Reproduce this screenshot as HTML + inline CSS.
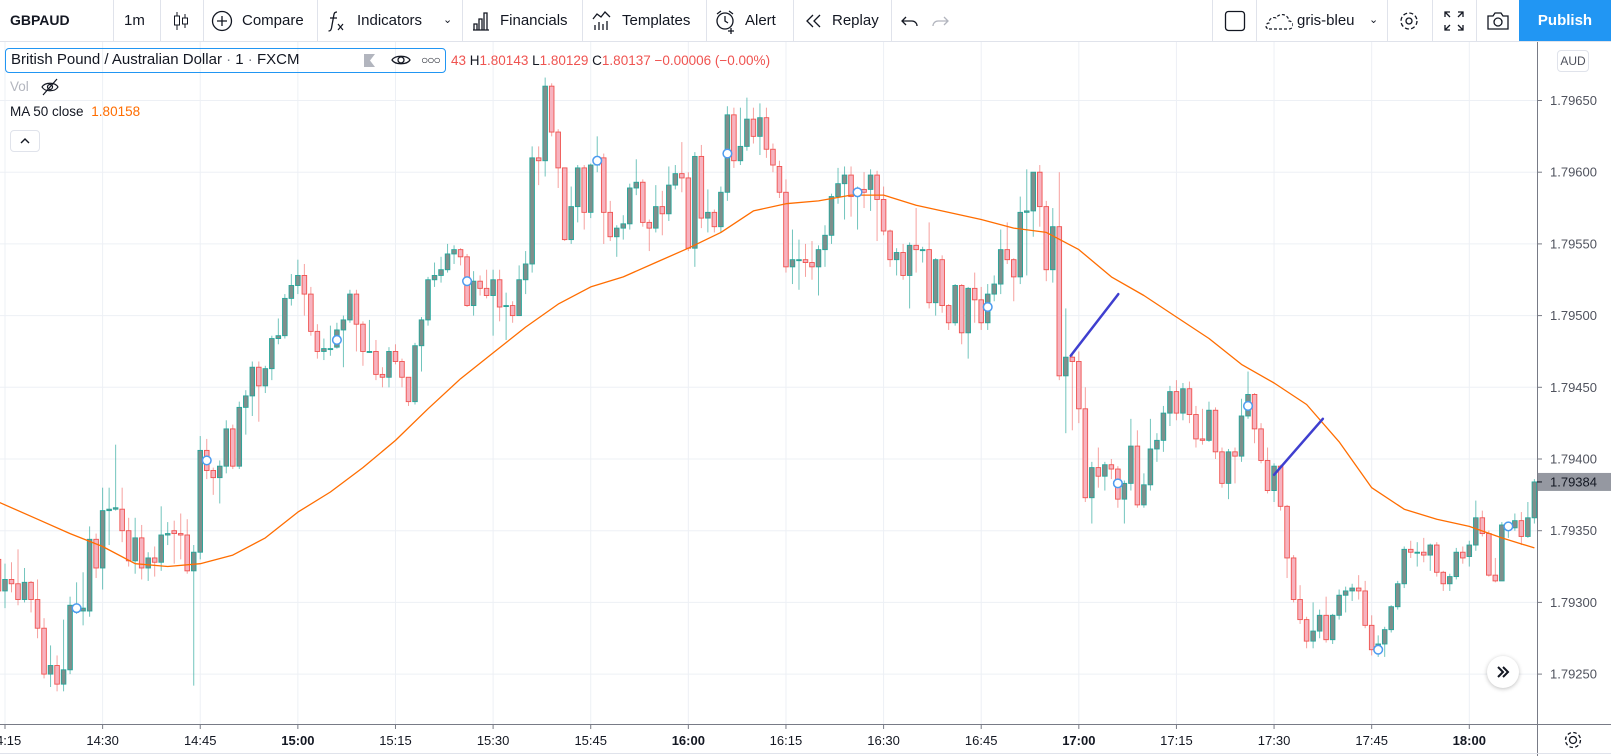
<!DOCTYPE html>
<html><head><meta charset="utf-8"><title>GBPAUD chart</title>
<style>
html,body{margin:0;padding:0;background:#fff;}
body{width:1611px;height:756px;overflow:hidden;position:relative;font-family:"Liberation Sans",sans-serif;color:#131722;}
#toolbar{position:absolute;left:0;top:0;width:1611px;height:41px;border-bottom:1px solid #e0e3eb;background:#fff;}
.ti{position:absolute;top:0;height:41px;line-height:41px;font-size:15px;color:#131722;white-space:nowrap;}
.sep{position:absolute;top:0;width:1px;height:41px;background:#e0e3eb;}
.ti svg{position:absolute;top:10px;}
#publish{position:absolute;left:1519px;top:0;width:92px;height:41px;background:#2196f3;color:#fff;font-weight:bold;font-size:15px;line-height:41px;text-align:center;}
#chart{position:absolute;left:0;top:0;}
#legend{position:absolute;left:5px;top:48px;width:441px;height:25px;border:1px solid #2196f3;border-radius:4px;box-sizing:border-box;}
.lg{position:absolute;white-space:nowrap;}
</style></head>
<body>
<div id="toolbar">
  <div class="ti" style="left:10px;font-weight:bold;font-size:14px">GBPAUD</div>
  <div class="sep" style="left:113px"></div>
  <div class="ti" style="left:124px">1m</div>
  <div class="sep" style="left:160px"></div>
  <div class="ti" style="left:170px;width:22px"><svg width="22" height="22" viewBox="0 0 22 22"><line x1="7" y1="2" x2="7" y2="20" stroke="#131722"/><rect x="4.5" y="6" width="5" height="9" fill="#fff" stroke="#131722"/><line x1="15" y1="4" x2="15" y2="18" stroke="#131722"/><rect x="12.5" y="8" width="5" height="6" fill="#fff" stroke="#131722"/></svg></div>
  <div class="sep" style="left:203px"></div>
  <div class="ti" style="left:210px;padding-left:32px"><svg style="left:0" width="24" height="22" viewBox="0 0 24 22"><circle cx="12" cy="11" r="9.5" fill="none" stroke="#131722" stroke-width="1.3"/><path d="M12 6v10M7 11h10" stroke="#131722" stroke-width="1.3"/></svg>Compare</div>
  <div class="sep" style="left:317px"></div>
  <div class="ti" style="left:326px;padding-left:31px"><svg style="left:0" width="20" height="22" viewBox="0 0 20 22"><path d="M11 2c-3 0-3 2-3.5 5l-2 11c-.5 2-1 3-3 3" fill="none" stroke="#131722" stroke-width="1.3"/><path d="M4 8h7" stroke="#131722" stroke-width="1.3"/><path d="M12 14l5 6M17 14l-5 6" stroke="#131722" stroke-width="1.2"/></svg>Indicators</div>
  <div class="ti" style="left:443px;font-size:11px">&#8964;</div>
  <div class="sep" style="left:462px"></div>
  <div class="ti" style="left:471px;padding-left:29px"><svg style="left:0" width="20" height="22" viewBox="0 0 20 22"><path d="M2 20h16M3 20v-6h3v6M8 20V9h3v11M13 20V3h3v17" fill="none" stroke="#131722" stroke-width="1.3"/></svg>Financials</div>
  <div class="sep" style="left:582px"></div>
  <div class="ti" style="left:592px;padding-left:30px"><svg style="left:0" width="20" height="22" viewBox="0 0 20 22"><path d="M1 9l4-5 4 3 4-5 5 5" fill="none" stroke="#131722" stroke-width="1.3"/><path d="M3 20v-5M7 20v-8M11 20v-6M15 20v-9" stroke="#131722" stroke-width="1.3"/></svg>Templates</div>
  <div class="sep" style="left:706px"></div>
  <div class="ti" style="left:715px;padding-left:30px"><svg style="left:0" width="22" height="24" viewBox="0 0 22 24"><circle cx="10" cy="11" r="8" fill="none" stroke="#131722" stroke-width="1.3"/><path d="M10 6v5l3 2M2 4l4-3M18 4l-4-3M16 18v6M13 21h6" stroke="#131722" stroke-width="1.3" fill="none"/></svg>Alert</div>
  <div class="sep" style="left:793px"></div>
  <div class="ti" style="left:804px;padding-left:28px"><svg style="left:0" width="20" height="22" viewBox="0 0 20 22"><path d="M9 5l-6 6 6 6M16 5l-6 6 6 6" fill="none" stroke="#131722" stroke-width="1.3"/></svg>Replay</div>
  <div class="sep" style="left:891px"></div>
  <div class="ti" style="left:900px;width:20px"><svg width="20" height="22" viewBox="0 0 20 22"><path d="M6 7l-4 4 4 4M2 11h10a5 5 0 0 1 5 5" fill="none" stroke="#131722" stroke-width="1.3"/></svg></div>
  <div class="ti" style="left:930px;width:20px"><svg width="20" height="22" viewBox="0 0 20 22"><path d="M14 7l4 4-4 4M18 11H8a5 5 0 0 0-5 5" fill="none" stroke="#b2b5be" stroke-width="1.3"/></svg></div>
  <div class="sep" style="left:1212px"></div>
  <div class="ti" style="left:1224px;width:22px"><svg width="22" height="22" viewBox="0 0 22 22"><rect x="1.5" y="1.5" width="19" height="19" rx="3" fill="none" stroke="#131722" stroke-width="1.3"/></svg></div>
  <div class="sep" style="left:1256px"></div>
  <div class="ti" style="left:1265px;padding-left:32px"><svg style="left:0" width="28" height="22" viewBox="0 0 28 22"><path d="M4 19h20a4 4 0 0 0 0-8 7 7 0 0 0-13-3 5 5 0 0 0-7 5 3 3 0 0 0 0 6" fill="none" stroke="#131722" stroke-width="1.2" stroke-dasharray="3 2"/></svg>gris-bleu</div>
  <div class="ti" style="left:1369px;font-size:11px">&#8964;</div>
  <div class="sep" style="left:1387px"></div>
  <div class="ti" style="left:1398px;width:22px"><svg width="22" height="22" viewBox="0 0 22 22"><circle cx="11" cy="11" r="3" fill="none" stroke="#131722" stroke-width="1.3"/><circle cx="11" cy="11" r="8" fill="none" stroke="#131722" stroke-width="1.3" stroke-dasharray="4 2.3"/></svg></div>
  <div class="sep" style="left:1432px"></div>
  <div class="ti" style="left:1443px;width:22px"><svg width="22" height="22" viewBox="0 0 22 22"><path d="M2 7V2h5M2 2l5 5M15 2h5v5M20 2l-5 5M2 15v5h5M2 20l5-5M20 15v5h-5M20 20l-5-5" fill="none" stroke="#131722" stroke-width="1.3"/></svg></div>
  <div class="sep" style="left:1476px"></div>
  <div class="ti" style="left:1486px;width:24px"><svg width="24" height="22" viewBox="0 0 24 22"><path d="M2 6h5l2-3h6l2 3h5v13H2z" fill="none" stroke="#131722" stroke-width="1.3"/><circle cx="12" cy="12" r="4" fill="none" stroke="#131722" stroke-width="1.3"/></svg></div>
  <div id="publish">Publish</div>
</div>

<svg id="chart" width="1611" height="756" style="top:0">
  <defs><clipPath id="plotclip"><rect x="0" y="42" width="1537" height="682"/></clipPath>
  <clipPath id="timeclip"><rect x="0" y="724" width="1537" height="30"/></clipPath></defs>
  <g id="grid"></g>
  <g id="plot" clip-path="url(#plotclip)"></g>
  <g id="yaxis"></g>
  <g id="xaxis"></g>
</svg>

<div id="legend"></div>
<div class="lg" style="left:11px;top:50px;font-size:15px;line-height:20px">British Pound / Australian Dollar <span style="color:#787b86">·</span> 1 <span style="color:#787b86">·</span> FXCM</div>
<div class="lg" style="left:362px;top:53px;width:15px;height:15px"><svg width="15" height="15"><path d="M2 1h11l-5 6.5 5 6.5H2z" fill="#b2b5be"/></svg></div>
<div class="lg" style="left:391px;top:51px"><svg width="20" height="18"><path d="M1 9c3-5 15-5 18 0-3 5-15 5-18 0z" fill="none" stroke="#131722" stroke-width="1.3"/><circle cx="10" cy="9" r="3" fill="none" stroke="#131722" stroke-width="1.3"/></svg></div>
<div class="lg" style="left:421px;top:50px;font-size:12px;line-height:20px;letter-spacing:-1px">&#9675;&#9675;&#9675;</div>
<div class="lg" style="left:451px;top:53px;font-size:13.5px;color:#ef5350">43 <span style="color:#131722">H</span>1.80143 <span style="color:#131722">L</span>1.80129 <span style="color:#131722">C</span>1.80137 −0.00006 (−0.00%)</div>
<div class="lg" style="left:10px;top:79px;font-size:13.5px;color:#b2b5be">Vol</div>
<div class="lg" style="left:40px;top:78px"><svg width="20" height="18"><path d="M2 9c3-5 13-5 16 0-3 5-13 5-16 0z" fill="none" stroke="#131722" stroke-width="1.2"/><circle cx="10" cy="9" r="2.5" fill="none" stroke="#131722" stroke-width="1.2"/><path d="M3 17L17 1" stroke="#131722" stroke-width="1.2"/></svg></div>
<div class="lg" style="left:10px;top:104px;font-size:13.5px">MA 50 close <span style="color:#ff6d00;margin-left:4px">1.80158</span></div>
<div class="lg" style="left:10px;top:130px;width:30px;height:22px;border:1px solid #e0e3eb;border-radius:4px;box-sizing:border-box"><svg width="28" height="20"><path d="M10 12l4-4 4 4" fill="none" stroke="#131722" stroke-width="1.4"/></svg></div>
<div class="lg" style="left:1557px;top:50px;width:32px;height:22px;border:1px solid #e0e3eb;border-radius:4px;box-sizing:border-box;font-size:12px;line-height:20px;text-align:center;color:#50535e">AUD</div>
<div class="lg" style="left:1487px;top:656px;width:32px;height:32px;border-radius:16px;background:#fff;box-shadow:0 1px 4px rgba(0,0,0,0.25)"><svg width="32" height="32"><path d="M11 11l5 5-5 5M16 11l5 5-5 5" fill="none" stroke="#131722" stroke-width="2"/></svg></div>
<div class="lg" style="left:1562px;top:729px"><svg width="22" height="22"><circle cx="11" cy="11" r="3.5" fill="none" stroke="#131722" stroke-width="1.3"/><circle cx="11" cy="11" r="7.5" fill="none" stroke="#131722" stroke-width="1.3" stroke-dasharray="3.5 2.4"/></svg></div>

<script>
const START_TIME = "14:14";
const opens = [1.79330,1.79308,1.79316,1.79313,1.79302,1.79314,1.79302,1.79282,1.79250,1.79256,1.79243,1.79253,1.79296,1.79294,1.79294,1.79344,1.79324,1.79364,1.79365,1.79365,1.79350,1.79329,1.79345,1.79324,1.79331,1.79328,1.79347,1.79350,1.79348,1.79347,1.79322,1.79335,1.79406,1.79392,1.79387,1.79395,1.79421,1.79395,1.79436,
1.79444,1.79464,1.79451,1.79463,1.79484,1.79486,1.79512,1.79521,1.79528,1.79515,1.79489,1.79475,1.79477,1.79478,1.79490,1.79497,1.79515,1.79494,1.79475,1.79475,1.79459,1.79457,1.79475,1.79468,1.79457,1.79440,1.79479,1.79497,1.79525,1.79528,1.79532,1.79543,1.79546,1.79541,1.79507,1.79524,1.79519,1.79514,1.79525,
1.79507,1.79507,1.79500,1.79525,1.79536,1.79610,1.79608,1.79660,1.79628,1.79603,1.79553,1.79576,1.79603,1.79572,1.79605,1.79610,1.79572,1.79555,1.79561,1.79564,1.79589,1.79593,1.79565,1.79561,1.79576,1.79571,1.79591,1.79599,1.79596,1.79547,1.79611,1.79568,1.79572,1.79562,1.79586,1.79640,1.79608,1.79618,
1.79637,1.79625,1.79638,1.79616,1.79604,1.79586,1.79534,1.79539,1.79539,1.79537,1.79534,1.79546,1.79556,1.79583,1.79592,1.79598,1.79586,1.79588,1.79588,1.79598,1.79581,1.79559,1.79539,1.79544,1.79528,1.79549,1.79546,1.79546,1.79509,1.79539,1.79507,1.79495,1.79521,1.79488,1.79519,1.79511,1.79495,1.79515,1.79522,
1.79546,1.79539,1.79527,1.79572,1.79573,1.79600,1.79576,1.79532,1.79562,1.79458,1.79471,1.79468,1.79435,1.79373,1.79394,1.79388,1.79396,1.79393,1.79372,1.79383,1.79409,1.79368,1.79382,1.79407,1.79413,1.79432,1.79447,1.79432,1.79449,1.79431,1.79414,1.79413,1.79434,1.79405,1.79383,1.79405,1.79402,1.79430,
1.79445,1.79421,1.79399,1.79378,1.79395,1.79367,1.79331,1.79302,1.79288,1.79273,1.79280,1.79291,1.79274,1.79291,1.79305,1.79308,1.79310,1.79308,1.79284,1.79267,1.79271,1.79281,1.79297,1.79313,1.79337,1.79335,1.79335,1.79333,1.79340,1.79321,1.79313,1.79318,1.79335,1.79332,1.79340,1.79359,1.79348,1.79319,1.79315,1.79352,1.79352,1.79357,1.79346,1.79359];
const closes = [1.79308,1.79316,1.79313,1.79302,1.79314,1.79302,1.79282,1.79250,1.79256,1.79243,1.79253,1.79298,1.79296,1.79296,1.79344,1.79324,1.79364,1.79365,1.79366,1.79350,1.79329,1.79345,1.79324,1.79331,1.79328,1.79347,1.79348,1.79348,1.79347,1.79322,1.79335,1.79406,1.79392,1.79387,1.79395,1.79421,1.79395,1.79436,1.79444,
1.79464,1.79451,1.79463,1.79484,1.79486,1.79512,1.79521,1.79528,1.79515,1.79489,1.79475,1.79477,1.79477,1.79490,1.79497,1.79515,1.79494,1.79475,1.79475,1.79459,1.79457,1.79475,1.79468,1.79457,1.79440,1.79479,1.79497,1.79525,1.79528,1.79532,1.79543,1.79546,1.79541,1.79507,1.79524,1.79519,1.79514,1.79525,1.79506,
1.79507,1.79500,1.79525,1.79536,1.79610,1.79608,1.79660,1.79628,1.79603,1.79553,1.79576,1.79603,1.79572,1.79605,1.79606,1.79572,1.79555,1.79561,1.79564,1.79589,1.79593,1.79565,1.79561,1.79576,1.79571,1.79591,1.79599,1.79596,1.79547,1.79611,1.79568,1.79572,1.79562,1.79586,1.79640,1.79608,1.79618,1.79637,
1.79625,1.79638,1.79616,1.79605,1.79586,1.79534,1.79539,1.79539,1.79537,1.79534,1.79546,1.79556,1.79583,1.79592,1.79598,1.79583,1.79586,1.79586,1.79598,1.79581,1.79559,1.79539,1.79544,1.79528,1.79549,1.79546,1.79546,1.79509,1.79539,1.79507,1.79495,1.79521,1.79488,1.79519,1.79511,1.79495,1.79515,1.79522,1.79546,
1.79539,1.79527,1.79572,1.79573,1.79600,1.79576,1.79532,1.79562,1.79458,1.79471,1.79468,1.79435,1.79373,1.79394,1.79388,1.79396,1.79393,1.79372,1.79383,1.79409,1.79368,1.79382,1.79407,1.79413,1.79432,1.79447,1.79432,1.79449,1.79431,1.79414,1.79413,1.79434,1.79405,1.79383,1.79405,1.79402,1.79430,1.79445,
1.79421,1.79399,1.79378,1.79395,1.79367,1.79331,1.79302,1.79288,1.79273,1.79280,1.79291,1.79274,1.79291,1.79305,1.79308,1.79310,1.79308,1.79284,1.79267,1.79271,1.79281,1.79297,1.79313,1.79337,1.79335,1.79335,1.79333,1.79340,1.79321,1.79313,1.79318,1.79335,1.79331,1.79340,1.79359,1.79348,1.79319,1.79315,1.79354,1.79353,1.79357,1.79346,1.79359,1.79384];
const highs = [1.79334,1.79327,1.79328,1.79337,1.79324,1.79315,1.79316,1.79289,1.79270,1.79263,1.79288,1.79304,1.79314,1.79321,1.79353,1.79348,1.79380,1.79380,1.79410,1.79380,1.79359,1.79359,1.79354,1.79335,1.79339,1.79367,1.79356,1.79357,1.79362,1.79358,1.79340,1.79416,1.79414,1.79394,1.79399,1.79427,1.79424,1.79440,1.79448,
1.79468,1.79468,1.79465,1.79486,1.79498,1.79515,1.79529,1.79539,1.79536,1.79520,1.79494,1.79484,1.79493,1.79495,1.79500,1.79518,1.79518,1.79496,1.79497,1.79483,1.79464,1.79478,1.79480,1.79470,1.79457,1.79481,1.79499,1.79527,1.79537,1.79541,1.79550,1.79549,1.79547,1.79543,1.79531,1.79528,1.79532,1.79532,1.79532,
1.79516,1.79510,1.79535,1.79545,1.79618,1.79618,1.79666,1.79662,1.79630,1.79603,1.79590,1.79605,1.79605,1.79606,1.79625,1.79613,1.79580,1.79563,1.79570,1.79592,1.79609,1.79595,1.79567,1.79591,1.79587,1.79604,1.79605,1.79621,1.79600,1.79614,1.79619,1.79588,1.79574,1.79590,1.79646,1.79645,1.79645,1.79652,
1.79645,1.79648,1.79645,1.79620,1.79608,1.79595,1.79560,1.79553,1.79550,1.79552,1.79549,1.79563,1.79585,1.79603,1.79604,1.79604,1.79590,1.79600,1.79602,1.79601,1.79590,1.79560,1.79547,1.79550,1.79551,1.79575,1.79548,1.79565,1.79540,1.79542,1.79508,1.79522,1.79522,1.79520,1.79530,1.79520,1.79522,1.79528,1.79560,
1.79565,1.79540,1.79583,1.79602,1.79600,1.79605,1.79580,1.79575,1.79600,1.79505,1.79474,1.79475,1.79450,1.79398,1.79408,1.79398,1.79400,1.79395,1.79385,1.79428,1.79420,1.79390,1.79428,1.79418,1.79437,1.79451,1.79455,1.79453,1.79454,1.79437,1.79435,1.79440,1.79436,1.79408,1.79407,1.79408,1.79442,1.79461,
1.79446,1.79425,1.79408,1.79397,1.79396,1.79368,1.79333,1.79312,1.79290,1.79300,1.79295,1.79304,1.79292,1.79309,1.79311,1.79313,1.79319,1.79315,1.79291,1.79277,1.79283,1.79298,1.79315,1.79339,1.79343,1.79342,1.79345,1.79341,1.79342,1.79322,1.79320,1.79338,1.79339,1.79343,1.79371,1.79364,1.79350,1.79331,1.79356,1.79356,1.79362,1.79363,1.79370,1.79386];
const lows = [1.79300,1.79296,1.79307,1.79298,1.79300,1.79293,1.79275,1.79247,1.79241,1.79238,1.79238,1.79250,1.79292,1.79284,1.79290,1.79317,1.79309,1.79340,1.79364,1.79342,1.79325,1.79320,1.79316,1.79315,1.79318,1.79322,1.79340,1.79327,1.79330,1.79320,1.79242,1.79330,1.79386,1.79375,1.79369,1.79390,1.79393,1.79393,1.79417,
1.79430,1.79426,1.79446,1.79455,1.79480,1.79484,1.79507,1.79515,1.79500,1.79486,1.79470,1.79469,1.79472,1.79477,1.79464,1.79495,1.79475,1.79465,1.79474,1.79455,1.79450,1.79450,1.79466,1.79450,1.79437,1.79438,1.79461,1.79493,1.79520,1.79523,1.79530,1.79536,1.79535,1.79506,1.79500,1.79514,1.79512,1.79486,1.79496,
1.79483,1.79495,1.79500,1.79515,1.79530,1.79591,1.79597,1.79625,1.79589,1.79552,1.79550,1.79565,1.79560,1.79568,1.79600,1.79550,1.79552,1.79541,1.79553,1.79560,1.79584,1.79562,1.79545,1.79558,1.79556,1.79566,1.79588,1.79586,1.79545,1.79534,1.79561,1.79558,1.79558,1.79558,1.79580,1.79603,1.79605,1.79615,
1.79620,1.79612,1.79610,1.79600,1.79582,1.79530,1.79522,1.79518,1.79527,1.79525,1.79514,1.79534,1.79550,1.79578,1.79567,1.79569,1.79560,1.79575,1.79573,1.79552,1.79556,1.79534,1.79528,1.79525,1.79505,1.79530,1.79537,1.79505,1.79500,1.79502,1.79490,1.79493,1.79480,1.79470,1.79495,1.79490,1.79490,1.79510,1.79515,
1.79536,1.79510,1.79522,1.79528,1.79555,1.79562,1.79524,1.79523,1.79455,1.79418,1.79420,1.79425,1.79370,1.79355,1.79380,1.79378,1.79386,1.79366,1.79355,1.79378,1.79366,1.79366,1.79378,1.79398,1.79405,1.79423,1.79427,1.79427,1.79425,1.79408,1.79410,1.79412,1.79400,1.79380,1.79372,1.79383,1.79398,1.79428,
1.79411,1.79397,1.79376,1.79370,1.79364,1.79317,1.79300,1.79285,1.79268,1.79268,1.79275,1.79272,1.79271,1.79288,1.79293,1.79301,1.79302,1.79282,1.79263,1.79262,1.79262,1.79279,1.79295,1.79310,1.79331,1.79325,1.79328,1.79322,1.79318,1.79308,1.79308,1.79316,1.79327,1.79325,1.79336,1.79346,1.79318,1.79314,1.79315,1.79345,1.79350,1.79340,1.79345,1.79355];
const maTimes = ["14:14","14:20","14:25","14:30","14:35","14:40","14:45","14:50","14:55","15:00","15:05","15:10","15:15","15:20","15:25","15:30","15:35","15:40","15:45","15:50","15:55","16:00","16:05","16:10","16:15","16:20","16:25","16:30","16:35","16:40","16:45","16:50","16:55","17:00","17:05","17:10","17:15","17:20","17:25","17:30","17:35","17:40","17:45","17:50","17:55","18:00","18:05","18:10"];
const maValues = [1.79370,1.79358,1.79348,1.79339,1.79327,1.79325,1.79327,1.79333,1.79345,1.79363,1.79377,1.79394,1.79413,1.79435,1.79456,1.79474,1.79492,1.79508,1.79520,1.79527,1.79537,1.79547,1.79558,1.79573,1.79578,1.79580,1.79584,1.79584,1.79577,1.79572,1.79567,1.79561,1.79558,1.79546,1.79527,1.79514,1.79499,1.79484,1.79466,1.79453,1.79438,1.79412,1.79380,1.79365,1.79358,1.79353,1.79345,1.79338];
const markerTimes = ["14:26","14:46","15:06","15:26","15:46","16:06","16:26","16:46","17:06","17:26","17:46","18:06"];
const markerPrices = [1.79296,1.79399,1.79483,1.79524,1.79608,1.79613,1.79586,1.79506,1.79383,1.79437,1.79267,1.79353];
const trendTimes = [["16:58.75","17:06.07"],["17:30","17:37.5"]];
const trendPrices = [[1.79472,1.79515],[1.79389,1.79428]];
const priceTicks = [1.79650,1.79600,1.79550,1.79500,1.79450,1.79400,1.79350,1.79300,1.79250];
const timeTicks = ["14:15","14:30","14:45","15:00","15:15","15:30","15:45","16:00","16:15","16:30","16:45","17:00","17:15","17:30","17:45","18:00"];
const lastPrice = 1.79384;

const NS = "http://www.w3.org/2000/svg";
function mins(t){const p=t.split(":");return (+p[0])*60+parseFloat(p[1]);}
const T0 = mins("14:15"), PX_PER_MIN = 6.508, X0 = 5;
const P0 = 1.79650, Y0 = 100.5, PX_PER_PRICE = 143400;
function xOf(t){return X0 + (mins(t)-T0)*PX_PER_MIN;}
function xOfIndex(i){return X0 + (mins(START_TIME)+i-T0)*PX_PER_MIN;}
function yOf(p){return Y0 + (P0-p)*PX_PER_PRICE;}
function mk(tag,attrs,parent){const e=document.createElementNS(NS,tag);for(const k in attrs)e.setAttribute(k,attrs[k]);parent.appendChild(e);return e;}

const grid=document.getElementById('grid'), plot=document.getElementById('plot'), yaxis=document.getElementById('yaxis'), xaxis=document.getElementById('xaxis');
priceTicks.forEach(p=>{const l=mk('line',{x1:0,x2:1537,y1:yOf(p),y2:yOf(p),stroke:'#edf0f5','stroke-width':1},grid);
  
  });
timeTicks.forEach(t=>{const l=mk('line',{x1:xOf(t),x2:xOf(t),y1:42,y2:724,stroke:'#edf0f5','stroke-width':1},grid);
  
  });

// candles
for(let i=0;i<opens.length;i++){
  const o=opens[i],c=closes[i],h=highs[i],lo=lows[i];
  const up=c>=o, x=xOfIndex(i);
  const g=mk('g',{},plot);
  
  
  mk('line',{x1:x,x2:x,y1:yOf(h),y2:yOf(lo),stroke:up?'rgba(38,166,154,0.65)':'rgba(239,83,80,0.55)','stroke-width':1},g);
  const top=yOf(Math.max(o,c)), bot=yOf(Math.min(o,c));
  mk('rect',{x:x-2.3,y:top,width:4.6,height:Math.max(1,bot-top),fill:up?'#7f8f8c':'#f7b3bf',stroke:up?'#26a69a':'#ef5350','stroke-width':0.9},g);
}
// MA line
let d='';maTimes.forEach((t,i)=>{d+=(i?'L':'M')+xOf(t).toFixed(1)+' '+yOf(maValues[i]).toFixed(1);});
const ma=mk('path',{d:d,fill:'none',stroke:'#ff6d00','stroke-width':1.3,'stroke-linejoin':'round'},plot);


// trend lines
trendTimes.forEach((tt,i)=>{const l=mk('line',{x1:xOf(tt[0]),y1:yOf(trendPrices[i][0]),x2:xOf(tt[1]),y2:yOf(trendPrices[i][1]),stroke:'#3f3fcf','stroke-width':2.5,'stroke-linecap':'round'},plot);
  
  });
// markers
markerTimes.forEach((t,i)=>{const c=mk('circle',{cx:xOf(t),cy:yOf(markerPrices[i]),r:4.3,fill:'#fff',stroke:'#4c9bf0','stroke-width':1.5},plot);
  
  });

// price axis
mk('line',{x1:1537.5,x2:1537.5,y1:42,y2:756,stroke:'#787b86','stroke-width':1},yaxis);
priceTicks.forEach(p=>{mk('line',{x1:1537,x2:1542,y1:yOf(p),y2:yOf(p),stroke:'#787b86'},yaxis);
  const t=mk('text',{x:1550,y:yOf(p)+4.5,'font-size':13,fill:'#50535e','font-family':'Liberation Sans, sans-serif'},yaxis);
  t.textContent=p.toFixed(5);
  
  });
const ly=yOf(lastPrice);
const lr=mk('rect',{x:1538,y:ly-9,width:73,height:18,fill:'#9598a1'},yaxis);


mk('line',{x1:1537,x2:1542,y1:ly,y2:ly,stroke:'#131722'},yaxis);
const lt=mk('text',{x:1550,y:ly+4.5,'font-size':13,fill:'#131722','font-family':'Liberation Sans, sans-serif'},yaxis);
lt.textContent=lastPrice.toFixed(5);



// time axis
mk('line',{x1:0,x2:1611,y1:724.5,y2:724.5,stroke:'#787b86'},xaxis);
mk('line',{x1:0,x2:1611,y1:753.5,y2:753.5,stroke:'#e0e3eb'},xaxis);
const tg=mk('g',{'clip-path':'url(#timeclip)'},xaxis);
timeTicks.forEach(t=>{const x=xOf(t);mk('line',{x1:x,x2:x,y1:724,y2:729,stroke:'#787b86'},tg);
  const bold=t.endsWith(':00');
  const e=mk('text',{x:x,y:745,'text-anchor':'middle','font-size':13,'font-weight':bold?'bold':'normal',fill:'#131722','font-family':'Liberation Sans, sans-serif'},tg);
  e.textContent=t;
  
  });
</script>
</body></html>
